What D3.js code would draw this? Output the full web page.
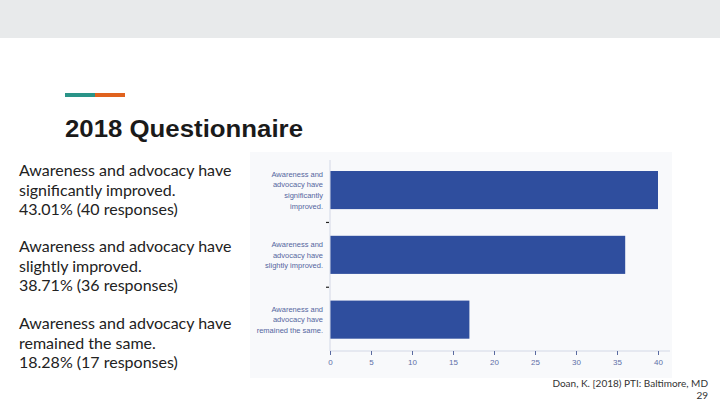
<!DOCTYPE html>
<html><head><meta charset="utf-8">
<script src="https://cdn.jsdelivr.net/npm/d3@7"></script>
<style>html,body{margin:0;padding:0;background:#fff;}svg{display:block;}</style>
</head><body>
<script>
const categories = [
  ["Awareness and","advocacy have","significantly","improved."],
  ["Awareness and","advocacy have","slightly improved."],
  ["Awareness and","advocacy have","remained the same."]
];
const responses = [40, 36, 17];
const sideText = [
  ["Awareness and advocacy have","significantly improved.","43.01% (40 responses)"],
  ["Awareness and advocacy have","slightly improved.","38.71% (36 responses)"],
  ["Awareness and advocacy have","remained the same.","18.28%  (17 responses)"]
];
const xTicks = [0,5,10,15,20,25,30,35,40];
const title = "2018 Questionnaire";
const footnote = ["Doan, K. [2018) PTI: Baltimore, MD", "29"];

const W=720,H=405;
const svg=d3.select("body").append("svg").attr("width",W).attr("height",H);
svg.append("rect").attr("x",0).attr("y",0).attr("width",W).attr("height",38).attr("fill","#e8eaeb");
svg.append("rect").attr("x",65).attr("y",93).attr("width",30).attr("height",4).attr("fill","#2a9488");
svg.append("rect").attr("x",95).attr("y",93).attr("width",30).attr("height",4).attr("fill","#e0621e");
svg.append("text").attr("x",65).attr("y",137).text(title)
  .attr("font-family","Liberation Sans, Arial, sans-serif").attr("font-weight","bold").attr("font-size",23.5)
  .attr("textLength",238).attr("lengthAdjust","spacingAndGlyphs").attr("fill","#1a1a1a");

// side text
const sideY=[170,246,323];
sideText.forEach((lines,i)=>{
  const t=svg.append("text").attr("font-family","Lato, sans-serif").attr("font-size",16).attr("fill","#222");
  lines.forEach((l,j)=>t.append("tspan").attr("x",19).attr("y",sideY[i]+6+j*19.5).text(l));
});

// chart panel
svg.append("rect").attr("x",250).attr("y",152).attr("width",422).attr("height",226).attr("fill","#f8f9fb");

const x=d3.scaleLinear().domain([0,40]).range([330,658]);
const y=d3.scaleBand().domain(d3.range(categories.length)).range([158.7,351]).paddingInner(0.412).paddingOuter(0.19);

svg.append("g").selectAll("rect").data(responses).join("rect")
  .attr("x",x(0)).attr("y",(d,i)=>y(i)).attr("width",d=>x(d)-x(0)).attr("height",y.bandwidth())
  .attr("fill","#2f4e9e");

// axes
const xAxis=svg.append("g").attr("transform","translate(0,351)")
  .call(d3.axisBottom(x).tickValues(xTicks).tickSize(4).tickPadding(4));
xAxis.select(".domain").attr("stroke","#d3d8e6").attr("d","M330,0H670");
xAxis.selectAll(".tick line").attr("stroke","#5a6aa0");
xAxis.selectAll("text").attr("font-family","Liberation Sans, Arial, sans-serif").attr("font-size",8).attr("fill","#6070a8");

svg.append("line").attr("x1",330).attr("x2",330).attr("y1",160).attr("y2",351).attr("stroke","#d3d8e6");
// divider ticks
[1,2].forEach(i=>{
  const yy=(y(i-1)+y.bandwidth()+y(i))/2;
  svg.append("line").attr("x1",326).attr("x2",329).attr("y1",yy).attr("y2",yy).attr("stroke","#222").attr("stroke-width",1.2);
});
// category labels
categories.forEach((lines,i)=>{
  const c=y(i)+y.bandwidth()/2;
  const t=svg.append("text").attr("text-anchor","end").attr("font-family","Liberation Sans, Arial, sans-serif").attr("font-size",7.5).attr("fill","#5566a0");
  const lh=10.8, start=c-(lines.length-1)*lh/2;
  lines.forEach((l,j)=>t.append("tspan").attr("x",323).attr("y",start+j*lh+2.7).text(l));
});

// footnote
svg.append("text").attr("x",708).attr("y",387).attr("text-anchor","end").attr("font-family","Lato, sans-serif").attr("font-size",10).attr("fill","#333").text(footnote[0]);
svg.append("text").attr("x",708).attr("y",399).attr("text-anchor","end").attr("font-family","Lato, sans-serif").attr("font-size",10).attr("fill","#333").text(footnote[1]);
</script>
</body></html>
